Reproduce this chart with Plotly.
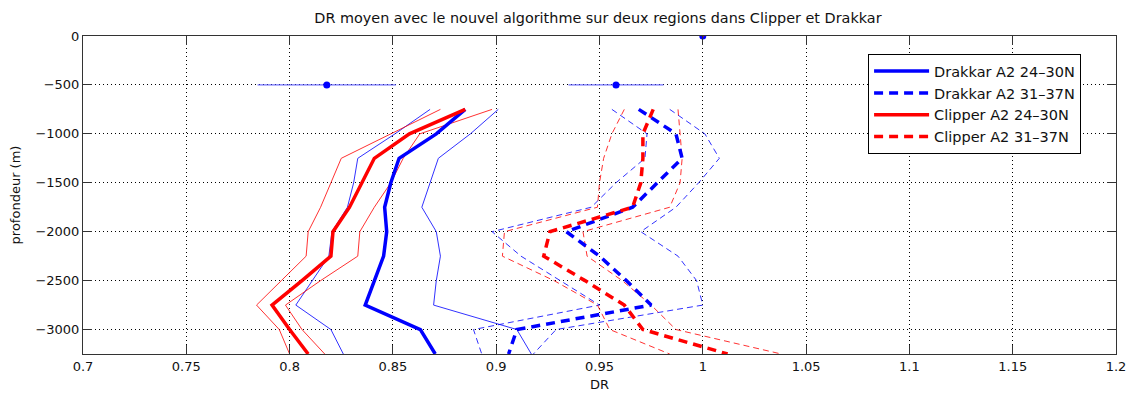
import plotly.graph_objects as go

# ---------------- data ----------------
depth = [-750, -1000, -1250, -1500, -1750, -2000, -2250, -2500, -2750, -3000, -3250]

drakkar_s_mean = [0.885, 0.871, 0.853, 0.849, 0.846, 0.847, 0.8455, 0.841, 0.8366, 0.8633, 0.8705]
drakkar_s_low = [0.868, 0.851, 0.833, 0.831, 0.828, 0.8205, 0.819, 0.811, 0.803, 0.820, 0.826]
drakkar_s_high = [0.901, 0.8875, 0.872, 0.868, 0.864, 0.871, 0.873, 0.871, 0.8697, 0.910, 0.917]

drakkar_d_mean = [0.969, 0.987, 0.990, 0.978, 0.966, 0.934, 0.950, 0.963, 0.975, 0.910, 0.906]
drakkar_d_low = [0.956, 0.973, 0.972, 0.958, 0.946, 0.898, 0.912, 0.931, 0.950, 0.889, 0.893]
drakkar_d_high = [0.984, 1.001, 1.008, 0.998, 0.987, 0.970, 0.988, 0.997, 1.000, 0.929, 0.918]

clipper_s_mean = [0.885, 0.858, 0.841, 0.835, 0.829, 0.821, 0.820, 0.806, 0.7915, 0.800, 0.809]
clipper_s_low = [0.873, 0.849, 0.825, 0.820, 0.815, 0.809, 0.808, 0.796, 0.784, 0.795, 0.800]
clipper_s_high = [0.898, 0.863, 0.855, 0.849, 0.841, 0.834, 0.833, 0.815, 0.798, 0.806, 0.817]

clipper_d_mean = [0.976, 0.971, 0.971, 0.970, 0.966, 0.926, 0.923, 0.943, 0.962, 0.971, 1.012]
clipper_d_low = [0.962, 0.956, 0.952, 0.950, 0.949, 0.904, 0.903, 0.928, 0.949, 0.955, 0.984]
clipper_d_high = [0.988, 0.989, 0.990, 0.989, 0.984, 0.942, 0.944, 0.961, 0.975, 0.987, 1.038]

ref_x = [1.0, 0.818, 0.958]
ref_y = [0, -500, -500]
ref_err = [0.0, 0.0335, 0.023]

series_names = ["Drakkar A2 24–30N", "Drakkar A2 31–37N", "Clipper A2 24–30N", "Clipper A2 31–37N"]

x_ticks = [0.7, 0.75, 0.8, 0.85, 0.9, 0.95, 1.0, 1.05, 1.1, 1.15, 1.2]
x_ticktext = ["0.7", "0.75", "0.8", "0.85", "0.9", "0.95", "1", "1.05", "1.1", "1.15", "1.2"]
y_ticks = [-3000, -2500, -2000, -1500, -1000, -500, 0]

BLUE = "#0000ff"
RED = "#ff0000"
FONT = "DejaVu Sans, Liberation Sans, Arial, sans-serif"

fig = go.Figure()

groups = [
    (series_names[0], BLUE, "solid", drakkar_s_mean, drakkar_s_low, drakkar_s_high),
    (series_names[1], BLUE, "dash", drakkar_d_mean, drakkar_d_low, drakkar_d_high),
    (series_names[2], RED, "solid", clipper_s_mean, clipper_s_low, clipper_s_high),
    (series_names[3], RED, "dash", clipper_d_mean, clipper_d_low, clipper_d_high),
]

# thin bounding lines first
for name, col, style, mean, low, high in groups:
    dash_thin = "solid" if style == "solid" else "6px,4px"
    for arr in (low, high):
        fig.add_trace(go.Scatter(
            x=arr, y=depth, mode="lines",
            line=dict(color=col, width=1, dash=dash_thin),
            opacity=0.8, showlegend=False, hoverinfo="skip"))

# thick mean lines
for name, col, style, mean, low, high in groups:
    dash_thick = "solid" if style == "solid" else "9px,6px"
    fig.add_trace(go.Scatter(
        x=mean, y=depth, mode="lines", name=name,
        line=dict(color=col, width=3.5, dash=dash_thick)))

# reference points with horizontal error bars
fig.add_trace(go.Scatter(
    x=ref_x, y=ref_y, mode="markers",
    marker=dict(color=BLUE, size=7),
    error_x=dict(type="data", array=ref_err, color="#4d4dff", thickness=1, width=0),
    showlegend=False, hoverinfo="skip"))
fig.add_trace(go.Scatter(
    x=ref_x[:1], y=ref_y[:1], mode="markers",
    marker=dict(color=RED, size=2),
    showlegend=False, hoverinfo="skip"))

axis_common = dict(
    showline=True, linecolor="#333333", linewidth=1, mirror="ticks",
    ticks="inside", ticklen=9, tickcolor="#333333",
    showgrid=True, gridcolor="#000000", gridwidth=1, griddash="1px,3px",
    zeroline=False, tickfont=dict(family=FONT, size=13, color="#111111"),
    automargin=False,
)

fig.update_xaxes(range=[0.7, 1.2], tickvals=x_ticks, ticktext=x_ticktext,
                 title=dict(text="DR", font=dict(family=FONT, size=13, color="#111111"), standoff=7),
                 **axis_common)
fig.update_yaxes(range=[-3250, 0], tickvals=y_ticks,
                 title=dict(text="profondeur (m)", font=dict(family=FONT, size=13, color="#111111"), standoff=12),
                 **axis_common)

# the page body adds an 8px margin, so the figure is sized to fill the rest of the window
fig.update_layout(
    width=1128, height=386,
    margin=dict(l=75, r=20, t=28, b=40, autoexpand=False),
    paper_bgcolor="white", plot_bgcolor="white",
    title=dict(text="DR moyen avec le nouvel algorithme sur deux regions dans Clipper et Drakkar",
               x=0.523, xanchor="center", y=0.974, yanchor="middle",
               font=dict(family=FONT, size=14.4, color="#111111")),
    legend=dict(x=0.760, y=0.943, xanchor="left", yanchor="top",
                bgcolor="white", bordercolor="#000000", borderwidth=1,
                font=dict(family=FONT, size=14.5, color="#111111"),
                itemwidth=55, tracegroupgap=0),
    showlegend=True,
)

fig.write_html("out.html")
